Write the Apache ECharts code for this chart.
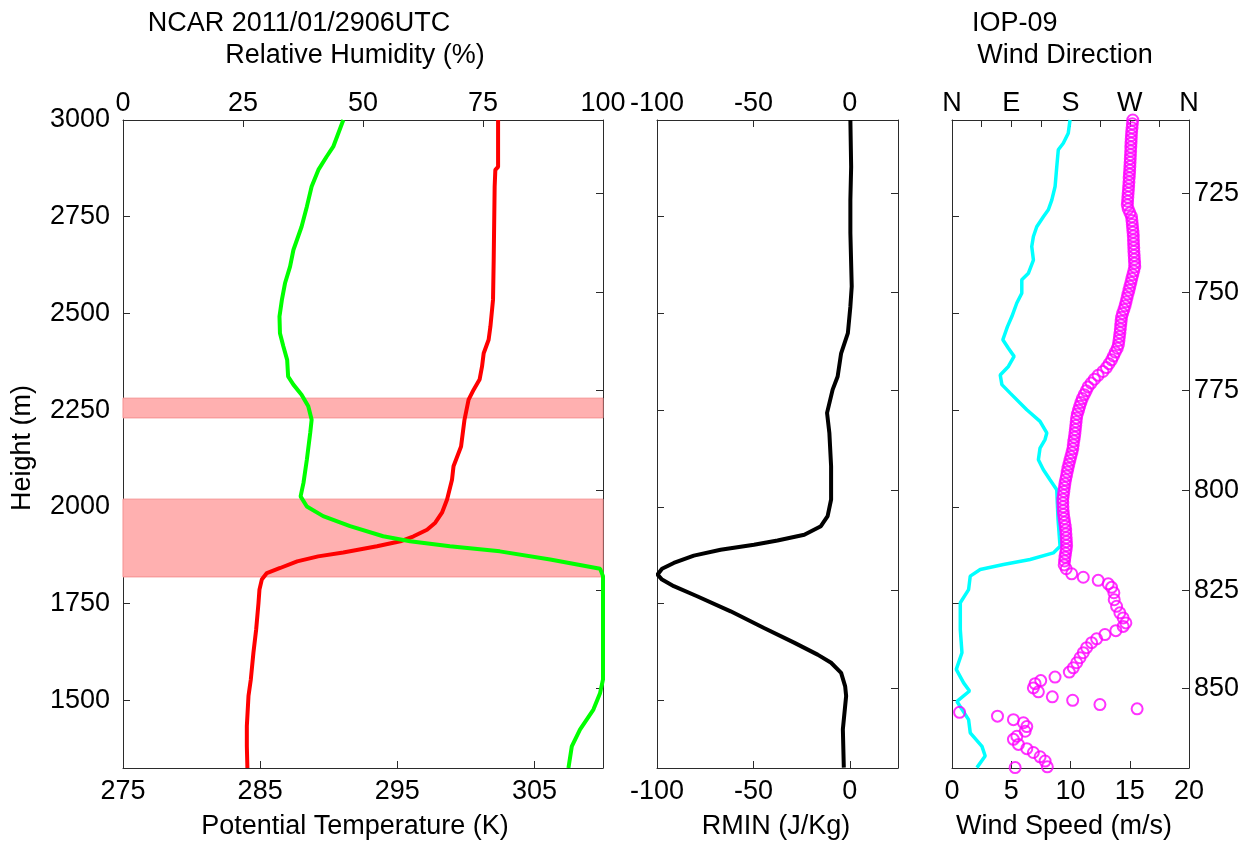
<!DOCTYPE html>
<html>
<head>
<meta charset="utf-8">
<script src="https://cdn.jsdelivr.net/npm/echarts@6/dist/echarts.min.js"></script>
<style>
html,body{margin:0;padding:0;background:#fff;}
#chart{width:1245px;height:843px;}
</style>
</head>
<body>
<div id="chart"></div>
<script>
// ---------------- data ----------------
const heightTicks = [1500, 1750, 2000, 2250, 2500, 2750, 3000];
const pressureLevels = [725, 750, 775, 800, 825, 850];
const pressureHeights = [2811, 2555, 2301, 2043, 1784, 1530];
const thetaTicks = [275, 285, 295, 305];
const rhTicks = [0, 25, 50, 75, 100];
const rminTicks = [-100, -50, 0];
const speedTicks = [0, 5, 10, 15, 20];
const dirTicks = [0, 45, 90, 135, 180, 225, 270, 315, 360];
const dirLabelValues = [0, 90, 180, 270, 360];
const dirLabelNames = ['N', 'E', 'S', 'W', 'N'];

// shaded layers [bottom, top] in m
const shadedLayers = [[1819, 2020], [2230, 2281]];

// potential temperature profile [height m, theta K]
const thetaProfile = [
  [3000,302.35],[2879,302.35],[2871,302.15],[2828,302.1],[2638,302.03],[2535,301.98],
  [2466,301.79],[2432,301.66],[2397,301.3],[2363,301.18],[2329,301.0],[2303,300.57],
  [2277,300.2],[2225,299.9],[2156,299.65],[2105,299.1],[2070,298.99],[2019,298.63],
  [1985,298.26],[1959,297.77],[1941,297.17],[1924,296.19],[1911,295.22],[1898,293.52],
  [1882,291.06],[1872,289.23],[1859,287.7],[1842,286.46],[1829,285.49],[1812,285.12],
  [1786,284.95],[1752,284.88],[1683,284.71],[1623,284.51],[1554,284.32],[1511,284.15],
  [1433,284.03],[1382,284.03],[1325,284.07]
];

// relative humidity profile [height m, RH %]
const rhProfile = [
  [3000,45.9],[2931,43.8],[2905,42.4],[2871,40.7],[2828,39.3],[2776,38.3],[2724,37.2],
  [2664,35.5],[2621,34.8],[2578,33.75],[2535,33.1],[2492,32.6],[2449,32.7],[2415,33.4],
  [2380,34.2],[2337,34.4],[2316,35.5],[2290,37.2],[2260,38.6],[2225,39.3],[2191,39.0],
  [2122,38.3],[2062,37.6],[2027,37.0],[2001,38.3],[1976,41.7],[1950,47.3],[1924,54.2],
  [1911,59.8],[1898,68.1],[1885,78.5],[1864,89.0],[1840,99.4],[1821,100],[1554,100],
  [1519,99.4],[1476,98.0],[1424,95.2],[1381,93.5],[1325,92.8]
];

// RMIN profile [height m, J/Kg]
const rminProfile = [
  [3000,0.3],[2879,0.7],[2793,0.3],[2708,0.3],[2570,1.0],[2518,0.3],[2449,-1.0],
  [2397,-4.5],[2337,-6.3],[2303,-8.9],[2243,-11.8],[2191,-10.6],[2105,-9.7],[2019,-9.7],
  [1976,-11.5],[1950,-15],[1928,-23.6],[1913,-37.5],[1902,-49.7],[1889,-67],[1874,-80.9],
  [1855,-91.3],[1840,-97.4],[1825,-99.7],[1812,-97.4],[1795,-91.3],[1769,-79.2],
  [1730,-61.8],[1687,-44.5],[1649,-28.9],[1618,-16.7],[1597,-9.7],[1571,-4.5],
  [1536,-2.4],[1511,-1.9],[1425,-3.6],[1326,-3.1]
];

// wind speed profile [height m, m/s]
const windSpeedProfile = [
  [3000,9.96],[2966,9.81],[2940,9.39],[2923,8.97],[2879,8.84],[2828,8.70],[2793,8.42],
  [2768,8.13],[2750,7.71],[2724,7.15],[2699,6.87],[2673,6.73],[2638,6.87],[2604,6.45],
  [2587,5.89],[2552,5.89],[2527,5.47],[2492,5.05],[2466,4.68],[2432,4.29],[2410,4.76],
  [2389,5.24],[2363,4.76],[2341,4.07],[2316,4.21],[2294,4.91],[2251,6.31],[2221,7.43],
  [2191,8.0],[2174,7.85],[2152,7.43],[2122,7.29],[2096,7.71],[2070,8.27],[2044,8.84],
  [1967,8.95],[1898,9.12],[1881,8.55],[1864,6.59],[1851,4.34],[1838,2.38],[1821,1.54],
  [1786,1.40],[1752,0.70],[1683,0.70],[1623,0.84],[1580,0.36],[1545,0.98],[1524,1.48],
  [1497,0.42],[1450,1.40],[1416,1.54],[1381,2.53],[1356,2.80],[1326,2.10]
];

// wind direction observations [height m, degrees]
const windDirProfile = [
  [3000,274.6],[2990,274.0],[2980,273.5],[2970,272.9],[2960,272.5],[2950,272.2],[2940,271.9],
  [2930,271.6],[2920,271.4],[2910,271.1],[2900,270.8],[2890,270.5],[2880,270.2],[2870,269.9],
  [2860,269.5],[2850,269.1],[2840,268.8],[2830,268.4],[2820,268.0],[2810,267.5],[2800,267.1],
  [2790,266.7],[2780,266.3],[2770,267.6],[2760,270.2],[2750,272.7],[2740,273.3],[2730,273.9],
  [2720,274.4],[2710,275.0],[2700,275.4],[2690,275.6],[2680,275.8],[2670,276.1],[2660,276.3],
  [2650,276.7],[2640,277.0],[2630,277.4],[2620,277.6],[2610,276.1],[2600,274.6],[2590,273.1],
  [2580,271.7],[2570,270.2],[2560,268.8],[2550,267.3],[2540,265.8],[2530,264.4],[2520,262.9],
  [2510,261.1],[2500,259.1],[2490,257.5],[2480,256.9],[2470,256.3],[2460,255.7],[2450,255.1],
  [2440,254.3],[2430,253.6],[2420,252.8],[2410,251.0],[2400,248.1],[2390,245.3],[2380,242.4],
  [2370,238.5],[2360,234.6],[2350,229.3],[2340,221.9],[2330,216.3],[2320,211.4],[2310,206.7],
  [2300,203.8],[2290,200.8],[2280,197.9],[2270,195.8],[2260,193.9],[2250,192.2],[2240,190.4],
  [2230,189.2],[2220,188.6],[2210,188.0],[2200,187.3],[2190,186.7],[2180,185.9],[2170,185.0],
  [2160,184.2],[2150,183.5],[2140,182.1],[2130,180.5],[2120,179.0],[2110,177.5],[2100,176.1],
  [2090,174.9],[2080,173.8],[2070,172.6],[2060,171.5],[2050,170.7],[2040,169.9],[2030,169.1],
  [2020,168.3],[2010,168.4],[2000,168.6],[1990,168.9],[1980,169.4],[1970,170.3],[1960,171.1],
  [1950,172.0],[1940,172.7],[1930,173.1],[1920,173.5],[1910,173.8],[1900,174.1],[1890,173.4],
  [1880,172.5],[1870,171.6],[1860,171.0],[1850,170.4],[1840,173.5],
  [1827,181.8],[1818,199.4],[1810,222.1],[1801,237.3],[1792,242.4],[1778,245.9],[1760,246.4],
  [1743,250.0],[1726,255.0],[1713,260.0],[1700,264.1],[1691,260.0],[1680,248.9],[1670,232.3],
  [1659,219.7],[1649,212.1],[1636,204.5],[1623,199.4],[1610,194.4],[1597,189.4],[1584,184.2],
  [1573,178.2],[1560,156.5],[1551,134.8],[1543,126.2],[1532,123.6],[1522,131.2],[1509,152.4],
  [1500,183.3],[1489,224.7],[1478,281.2],[1469,11.5],[1459,69.1],[1450,93.3],[1442,108.5],
  [1432,113.6],[1420,111.1],[1407,98.5],[1399,93.3],[1386,100.9],[1375,113.6],[1365,123.6],
  [1354,133.8],[1343,141.4],[1328,144.8],[1326,95.9]
];

// ---------------- chart ----------------
const FONT = '"Liberation Sans", Arial, sans-serif';
const FS = 27;
const AX = '#2b2b2b';
const HMIN = 1325, HMAX = 3000;

const grids = [
  {left: 123, top: 120, width: 480, height: 648},
  {left: 657, top: 120, width: 241, height: 648},
  {left: 952, top: 120, width: 237, height: 648}
];

const plainFmt = (v) => String(v);

function labelStyle(extra) {
  return Object.assign({color: '#000', fontSize: FS, fontFamily: FONT, formatter: plainFmt}, extra || {});
}

function xAx(gi, pos, min, max, ticks, labels, extra) {
  const o = {
    type: 'value', gridIndex: gi, position: pos, min: min, max: max,
    splitLine: {show: false},
    axisLine: {show: true, onZero: false, lineStyle: {color: AX, width: 1}},
    axisTick: {show: true, inside: true, length: 7, customValues: ticks, lineStyle: {color: AX}},
    axisLabel: labelStyle({show: labels != null, customValues: labels || ticks,
                           margin: pos === 'top' ? 3 : 10})
  };
  if (extra) Object.assign(o.axisLabel, extra);
  return o;
}

function yAx(gi, pos, ticks, showLabels, formatter) {
  const o = {
    type: 'value', gridIndex: gi, position: pos, min: HMIN, max: HMAX,
    splitLine: {show: false},
    axisLine: {show: true, onZero: false, lineStyle: {color: AX, width: 1}},
    axisTick: {show: true, inside: true, length: 7, customValues: ticks, lineStyle: {color: AX}},
    axisLabel: labelStyle({show: showLabels, customValues: ticks, margin: pos === 'left' ? 13 : 5})
  };
  if (formatter) o.axisLabel.formatter = formatter;
  return o;
}

const pressureFmt = function (v) {
  const i = pressureHeights.indexOf(v);
  return i >= 0 ? String(pressureLevels[i]) : '';
};
const dirFmt = function (v) {
  const i = dirLabelValues.indexOf(v);
  return i >= 0 ? dirLabelNames[i] : '';
};

const xAxes = [
  xAx(0, 'bottom', 275, 310, thetaTicks, thetaTicks),
  xAx(0, 'top', 0, 100, rhTicks, rhTicks),
  xAx(1, 'bottom', -100, 25, rminTicks, rminTicks),
  xAx(1, 'top', -100, 25, rminTicks, rminTicks),
  xAx(2, 'bottom', 0, 20, speedTicks, speedTicks),
  xAx(2, 'top', 0, 360, dirTicks, dirLabelValues, {formatter: dirFmt})
];

const yAxes = [
  yAx(0, 'left', heightTicks, true),
  yAx(0, 'right', pressureHeights, false),
  yAx(1, 'left', heightTicks, false),
  yAx(1, 'right', pressureHeights, false),
  yAx(2, 'left', heightTicks, false),
  yAx(2, 'right', pressureHeights, true, pressureFmt)
];

const toXY = (arr) => arr.map(p => [p[1], p[0]]);

function txt(text, x, y, align, rot) {
  return {
    type: 'text', x: x, y: y, rotation: rot || 0,
    style: {text: text, fill: '#000', font: FS + 'px ' + FONT,
            align: align || 'center', verticalAlign: 'middle'}
  };
}

const option = {
  animation: false,
  backgroundColor: '#fff',
  grid: grids,
  xAxis: xAxes,
  yAxis: yAxes,
  graphic: [
    txt('NCAR 2011/01/2906UTC', 299, 24),
    txt('Relative Humidity (%)', 355, 56),
    txt('IOP-09', 972, 24, 'left'),
    txt('Wind Direction', 1065, 56),
    txt('Potential Temperature (K)', 355, 827),
    txt('RMIN (J/Kg)', 776, 827),
    txt('Wind Speed (m/s)', 1064, 827),
    txt('Height (m)', 23, 448, 'center', Math.PI / 2)
  ],
  series: [
    {
      type: 'line', xAxisIndex: 0, yAxisIndex: 0, data: [], z: 1, silent: true,
      markArea: {
        silent: true,
        itemStyle: {color: '#ffb0b0', borderColor: '#f59090', borderWidth: 1, opacity: 1},
        data: shadedLayers.map(l => [{yAxis: l[0]}, {yAxis: l[1]}])
      }
    },
    {
      type: 'line', name: 'theta', xAxisIndex: 0, yAxisIndex: 0, z: 3,
      data: toXY(thetaProfile), showSymbol: false, symbol: 'none',
      lineStyle: {color: '#ff0000', width: 4}
    },
    {
      type: 'line', name: 'RH', xAxisIndex: 1, yAxisIndex: 0, z: 3,
      data: toXY(rhProfile), showSymbol: false, symbol: 'none',
      lineStyle: {color: '#00ff00', width: 4}
    },
    {
      type: 'line', name: 'RMIN', xAxisIndex: 2, yAxisIndex: 2, z: 3,
      data: toXY(rminProfile), showSymbol: false, symbol: 'none',
      lineStyle: {color: '#000000', width: 4}
    },
    {
      type: 'line', name: 'speed', xAxisIndex: 4, yAxisIndex: 4, z: 3,
      data: toXY(windSpeedProfile), showSymbol: false, symbol: 'none',
      lineStyle: {color: '#00ffff', width: 3.5}
    },
    {
      type: 'scatter', name: 'direction', xAxisIndex: 5, yAxisIndex: 4, z: 4,
      data: toXY(windDirProfile), symbol: 'circle', symbolSize: 11, clip: false,
      itemStyle: {color: 'rgba(0,0,0,0)', borderColor: '#ff00ff', borderWidth: 2}
    }
  ]
};

const chart = echarts.init(document.getElementById('chart'), null, {renderer: 'canvas'});
chart.setOption(option);
</script>
</body>
</html>
